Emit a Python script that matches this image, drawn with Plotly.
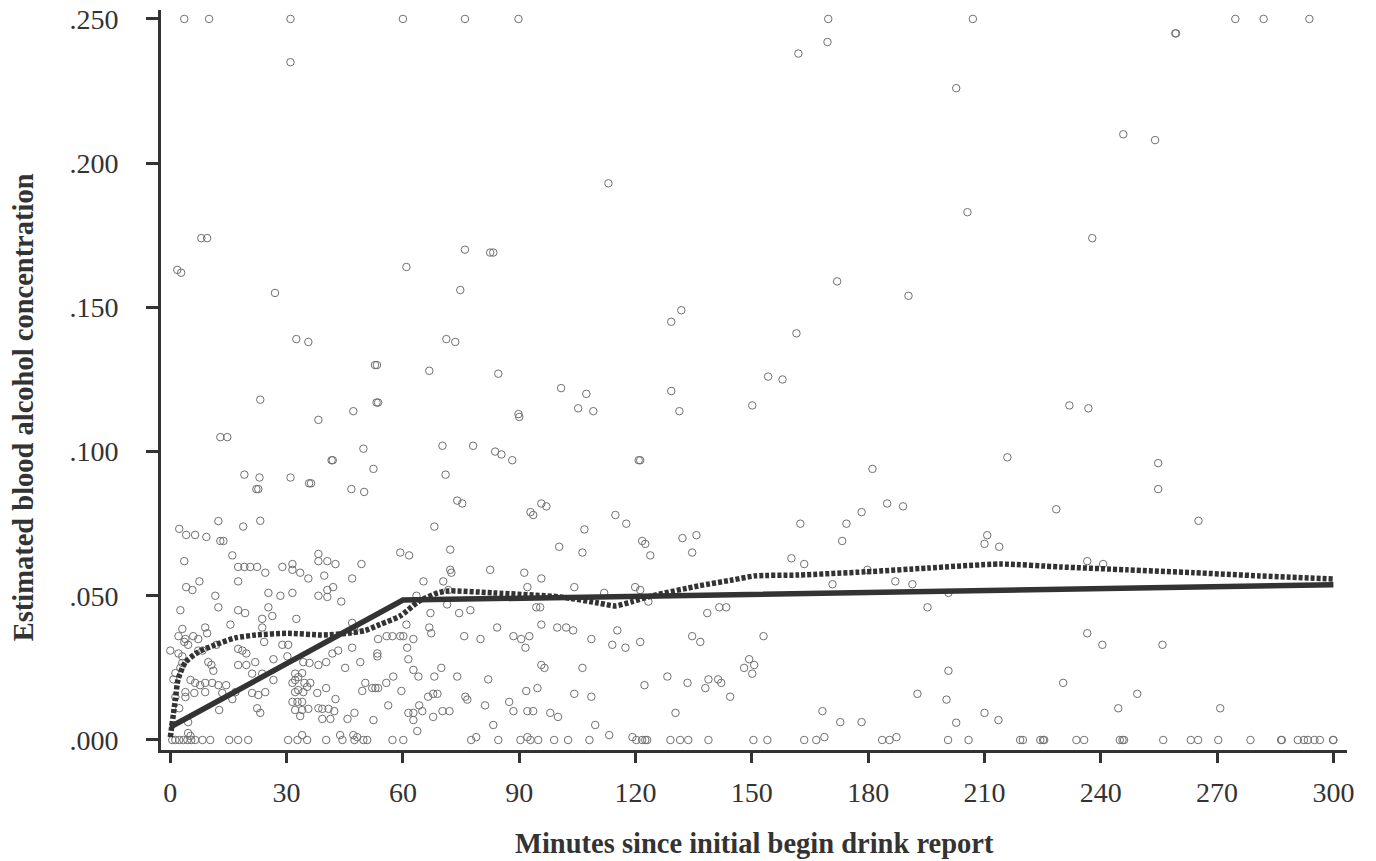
import plotly.graph_objects as go

# ---- Data (minutes since begin-drink report, estimated BAC) ----
points_top = [(3.6, .250), (10, .250), (31, .250), (60, .250), (76, .250), (89.8, .250),
              (169.7, .250), (207, .250), (274.7, .250), (282, .250), (293.8, .250),
              (31, .235), (8, .174), (9.5, .174), (76, .170), (82.5, .169), (83.3, .169),
              (113, .193), (169.5, .242), (162, .238), (202.7, .226), (205.6, .183),
              (259.2, .245), (259.4, .245), (245.8, .210), (254, .208), (237.8, .174)]

points_upper_left = [(1.8, .163), (2.8, .162), (27, .155), (32.5, .139), (35.6, .138), (52.8, .130),
                     (53.3, .130), (66.8, .128), (60.9, .164), (74.8, .156), (71.2, .139), (73.5, .138),
                     (23.2, .118), (38.2, .111), (47.2, .114), (53.2, .117), (53.6, .117), (12.9, .105),
                     (14.7, .105), (49.8, .101), (41.6, .097), (41.9, .097), (52.4, .094), (19.1, .092),
                     (23, .091), (31, .091), (35.8, .089), (36.3, .089), (22.2, .087), (22.7, .087),
                     (46.7, .087), (50, .086), (70.2, .102), (71, .092), (74, .083), (75.3, .082)]

points_upper_mid = [(131.8, .149), (129.2, .145), (84.6, .127), (100.8, .122), (107.3, .120),
                    (105.2, .115), (109.1, .114), (129.2, .121), (131.3, .114), (150.1, .116),
                    (89.8, .113), (90, .112), (78.1, .102), (83.8, .100), (85.4, .099), (88.2, .097),
                    (120.8, .097), (121.2, .097), (95.7, .082), (97, .081)]

points_upper_right = [(154.2, .126), (157.9, .125), (172, .159), (190.4, .154), (161.5, .141),
                      (231.9, .116), (236.8, .115), (215.9, .098), (181.1, .094), (254.8, .096),
                      (254.8, .087), (184.9, .082), (189, .081), (178.3, .079), (228.5, .080)]

points_0_50 = [(2.3, .0732), (4.1, .0711), (6.4, .0711), (9.3, .0704), (12.4, .0759), (12.9, .069),
               (13.7, .069), (18.8, .074), (23.2, .076), (16, .064), (3.6, .062), (17.5, .060),
               (19.1, .060), (20.6, .060), (22.4, .060), (24.5, .058), (28.9, .060), (31.5, .061),
               (31.5, .059), (33.5, .058), (35.6, .056), (38.2, .0645), (38.2, .062), (40.5, .062),
               (42.6, .061), (49.3, .061), (39.7, .057), (46.9, .056), (17.5, .055), (7.5, .055),
               (4.1, .053), (5.7, .052), (25.3, .051), (11.6, .050), (28.4, .050), (31.5, .051),
               (38.2, .050), (40.5, .0496), (40.5, .052), (42, .053), (44.1, .048), (2.6, .045),
               (12.4, .046), (17.5, .045), (19.3, .044), (25.3, .046), (23.7, .042), (26.3, .043),
               (32.5, .042), (15.5, .040), (23.7, .039), (3.1, .0385), (9, .039), (9.5, .037),
               (2.1, .036), (3.9, .035), (5.9, .036), (7.2, .035), (3.6, .034), (4.6, .033),
               (11.9, .033), (24.2, .034), (28.9, .033), (30.4, .033), (46.9, .0406), (47.5, .038),
               (0, .031), (2.1, .030), (3.1, .029), (7.2, .031), (8.3, .031), (17.5, .0316),
               (18.6, .031), (19.6, .030), (21.9, .027), (26.6, .028), (30.2, .029), (34.3, .027),
               (35.9, .0267), (38.2, .026), (40.2, .027), (41.8, .030), (43.3, .031), (45.1, .025),
               (46.9, .032), (49, .027), (9.8, .027), (10.6, .026), (11.1, .024), (17.5, .026),
               (19.6, .026), (21.1, .023), (23.7, .023), (26.6, .0208), (32.2, .023)]

points_0_50_low = [(31.5, .0198), (32.2, .0208), (33, .0218), (34, .0232), (34.6, .0198), (35.3, .0184),
                   (36.1, .0198), (33, .0173), (34.3, .0166), (32.2, .0166), (31.5, .0132), (32.8, .0132),
                   (34, .0132), (32.2, .0104), (34, .0104), (35.6, .0108), (33.5, .0083), (37.9, .0163),
                   (40.2, .018), (42.6, .0142), (38.2, .011), (39.2, .0108), (40.8, .0108), (42.3, .010),
                   (39.2, .0073), (41.3, .0073), (45.7, .0073), (47.5, .0094), (47.2, .0017), (48.2, .001),
                   (43.8, .0017), (5.2, .0208), (6.4, .0198), (7.7, .019), (9, .0198), (10.8, .0198),
                   (12.4, .019), (14.4, .019), (3.9, .0166), (6.2, .0163), (9, .0166), (13.4, .0163),
                   (16, .0142), (1.3, .0149), (3.9, .0149), (2.3, .011), (12.6, .0104), (22.4, .011),
                   (23.2, .0094), (16.8, .0166), (21.1, .0163), (22.7, .0156), (24.5, .0166), (1.3, .0232),
                   (2.6, .025), (3.1, .0267), (4.6, .0062), (0.8, .021), (34, .0017), (4.6, .0024),
                   (5.2, .0014), (49.5, .017)]

points_50_100 = [(92.9, .079), (93.6, .078), (68.1, .074), (100.3, .067), (59.3, .065), (61.6, .064),
                 (72.2, .066), (72.2, .059), (72.5, .058), (82.5, .059), (91.3, .058), (95.7, .056),
                 (65.3, .055), (70.4, .055), (92.1, .053), (71.7, .052), (63.5, .050), (71.4, .047),
                 (74.5, .044), (77.4, .045), (67.1, .044), (94.4, .046), (95.4, .046), (95.7, .040),
                 (66.8, .039), (67.3, .037), (60.9, .040), (55.8, .036), (57.3, .036), (59.3, .036),
                 (60.1, .036), (53.6, .035), (62.7, .035), (61.1, .032), (75.8, .036), (80, .035),
                 (84.3, .039), (88.5, .036), (90.5, .035), (92.6, .036), (91.6, .032), (99.8, .039),
                 (102.1, .039), (53.4, .030), (53.4, .029), (61.4, .028), (62.7, .0243), (64, .022),
                 (68.1, .022), (69.9, .025), (74, .022), (82, .021), (95.7, .026), (96.5, .025),
                 (57.5, .022), (50.3, .0198), (52.1, .018), (52.9, .018), (53.6, .018), (55.7, .0198),
                 (59.6, .017), (66.5, .015), (67.8, .016), (68.9, .016), (76.1, .015), (76.6, .014),
                 (91.8, .017), (94.7, .018), (56.2, .012), (52.4, .0069), (61.4, .0094), (62.7, .0094),
                 (62.7, .0069), (64.2, .012), (65, .010), (67.8, .008), (70.2, .010), (72, .010),
                 (63.7, .0031), (81.2, .012), (83.3, .0052), (87.4, .0132), (88.5, .010), (92.1, .010),
                 (93.6, .010), (98, .0094), (100, .008), (78.9, .001), (92.1, .001)]

points_100_180 = [(114.8, .078), (117.6, .075), (106.8, .073), (106.3, .065), (121.7, .069), (122.5, .068),
                  (123.8, .064), (132.1, .070), (135.7, .071), (134.6, .065), (162.5, .075), (174.4, .075),
                  (173.3, .069), (160.2, .063), (163.5, .061), (170.8, .054), (104.2, .053), (111.9, .051),
                  (119.9, .053), (121.2, .052), (123.3, .048), (138.5, .044), (141.6, .046), (143.4, .046),
                  (103.9, .038), (115.3, .038), (108.6, .035), (114, .033), (117.4, .032), (121.2, .034),
                  (134.6, .036), (136.7, .034), (153, .036), (106.3, .025), (104.2, .016), (108.6, .015),
                  (122.3, .019), (128.2, .022), (133.4, .0198), (138.8, .021), (141.3, .021), (142.1, .0198),
                  (138, .018), (144.4, .015), (148, .025), (149.3, .028), (150.6, .026), (150.1, .023),
                  (109.6, .0052), (130.3, .0094), (113.2, .0017), (119.2, .001), (168.2, .010), (168.7, .001),
                  (172.8, .0062), (178.3, .0062)]

points_180_300 = [(265.2, .076), (210, .068), (210.7, .071), (213.8, .067), (179.8, .059), (187, .055),
                  (191.4, .054), (195.3, .046), (236.5, .062), (240.6, .061), (200.7, .051), (236.5, .037),
                  (240.4, .033), (255.9, .033), (200.7, .024), (192.7, .016), (200.2, .014), (202.7, .006),
                  (210, .0094), (213.6, .0069), (230.3, .0198), (249.4, .016), (244.5, .011), (270.8, .011),
                  (187.3, .001)]

zero_bac_minutes = [0.5, 1.3, 2.3, 3.4, 4.4, 5.4, 6.4, 8.3, 10.3, 15.2, 17.5, 20.1, 30.4, 32.8, 35.3,
                    40.2, 44.4, 47.5, 49.8, 50.8, 57.3, 60.1, 77.6, 84.6, 90.3, 92.9, 94.9, 99, 102.6,
                    108.1, 120.2, 121.7, 122.5, 123, 129, 131.5, 133.6, 138.8, 150.4, 154, 163.5, 166.6,
                    183.6, 185.5, 200.6, 205.9, 219.2, 219.9, 224.4, 225.1, 225.4, 233.7, 235.7, 244.9,
                    245.6, 246, 256.1, 263.2, 265.1, 270.3, 278.6, 286.5, 286.7, 290.8, 292.4, 293.4,
                    295.1, 296.5, 299.9, 300]

# piecewise (spline) fit – solid line
fit_minutes = [0, 60, 300]
fit_bac = [0.0045, 0.0485, 0.0538]

# smoothed (lowess) curve – dotted line
lowess_minutes = [0, 1.3, 2, 3.9, 7.2, 11.6, 16.8, 22, 30.4, 39, 46, 50.3, 54, 59.3, 64, 69, 71.7,
                  83.3, 100.6, 110.4, 114.8, 119.2, 124.3, 136.2, 145, 150.9, 162, 179.3, 195.3,
                  214, 229.6, 246.8, 264, 281, 300]
lowess_bac = [0.001, 0.014, 0.021, 0.027, 0.0305, 0.033, 0.0354, 0.0364, 0.037, 0.0364, 0.037, 0.038,
              0.040, 0.043, 0.048, 0.051, 0.0517, 0.051, 0.0496, 0.0475, 0.0465, 0.048, 0.050, 0.0534,
              0.0555, 0.0569, 0.0572, 0.0583, 0.0596, 0.061, 0.060, 0.059, 0.058, 0.0569, 0.0558]

y_tick_vals = [0, 0.05, 0.10, 0.15, 0.20, 0.25]
y_tick_text = ['.000', '.050', '.100', '.150', '.200', '.250']
x_tick_vals = [0, 30, 60, 90, 120, 150, 180, 210, 240, 270, 300]

# ---- Build ----
all_pts = (points_top + points_upper_left + points_upper_mid + points_upper_right + points_0_50 +
           points_0_50_low + points_50_100 + points_100_180 + points_180_300 +
           [(m, 0.0) for m in zero_bac_minutes])
xs = [p[0] for p in all_pts]
ys = [p[1] for p in all_pts]

FONT = "Liberation Serif"
DARK = "#333333"

fig = go.Figure()
fig.add_trace(go.Scatter(x=xs, y=ys, mode="markers",
                         marker=dict(symbol="circle-open", size=7.5, color="#707070",
                                     line=dict(width=1, color="#707070")),
                         hoverinfo="skip", showlegend=False))
fig.add_trace(go.Scatter(x=lowess_minutes, y=lowess_bac, mode="lines",
                         line=dict(color=DARK, width=5.5, dash="4px,2px", shape="spline",
                                   smoothing=0.6),
                         showlegend=False))
fig.add_trace(go.Scatter(x=fit_minutes, y=fit_bac, mode="lines",
                         line=dict(color=DARK, width=5.5), showlegend=False))

# the page body has an 8px default margin, so the figure is sized/offset to compensate
fig.update_layout(
    width=1368, height=853,
    margin=dict(l=153, r=29, t=2, b=111, autoexpand=False),
    plot_bgcolor="white", paper_bgcolor="white",
    font=dict(family=FONT, color=DARK),
    showlegend=False,
)
fig.update_xaxes(range=[-2.4, 303.5], tickvals=x_tick_vals, ticks="outside", ticklen=10,
                 tickwidth=2.5, tickcolor=DARK, showline=True, linewidth=3, linecolor=DARK,
                 showgrid=False, zeroline=False, tickfont=dict(family=FONT, size=28, color=DARK),
                 ticklabelstandoff=5, ticklabeloverflow="allow", automargin=False)
fig.update_yaxes(range=[-0.00347, 0.2531], tickvals=y_tick_vals, ticktext=y_tick_text,
                 ticks="outside", ticklen=12, tickwidth=2.5, tickcolor=DARK, showline=True,
                 linewidth=3, linecolor=DARK, showgrid=False, zeroline=False,
                 tickfont=dict(family=FONT, size=28, color=DARK), ticklabelstandoff=22,
                 ticklabeloverflow="allow", automargin=False)

fig.add_annotation(text="<b>Estimated blood alcohol concentration</b>", textangle=-90,
                   xref="paper", yref="paper", x=-0.1158, y=0.4626, xanchor="center",
                   yanchor="middle", showarrow=False, font=dict(family=FONT, size=28.5, color=DARK))
fig.add_annotation(text="<b>Minutes since initial begin drink report</b>",
                   xref="paper", yref="paper", x=0.5, y=-0.1265, xanchor="center",
                   yanchor="middle", showarrow=False, font=dict(family=FONT, size=28.5, color=DARK))

fig.write_html("out.html")
